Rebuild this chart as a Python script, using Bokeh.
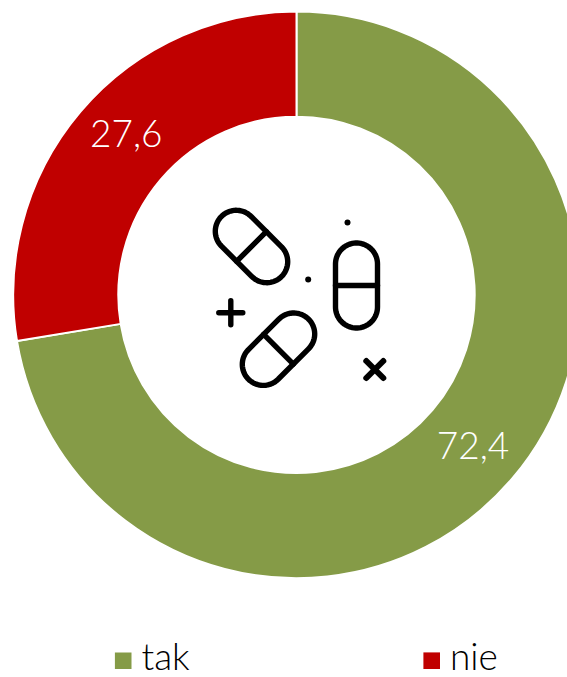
import numpy as np
from bokeh.plotting import figure
from bokeh.models import ColumnDataSource, Range1d
from bokeh.core.properties import value
from bokeh.embed import file_html
from bokeh.resources import INLINE

categories = ["tak", "nie"]
values = [72.4, 27.6]
labels = ["72,4", "27,6"]
colors = ["#859B47", "#C00000"]

W, H = 567, 677
FONT = "Lato Light"

def X(px):
    return px

def Y(py):
    return H - py

p = figure(width=W, height=H, output_backend="svg", toolbar_location=None,
           x_range=Range1d(0, W), y_range=Range1d(0, H), min_border=0)
p.axis.visible = False
p.grid.visible = False
p.outline_line_color = None
p.background_fill_color = "white"

# donut
shares = np.array(values) / sum(values) * 2 * np.pi
ends = np.pi / 2 - np.cumsum(shares)
starts = ends + shares
src = ColumnDataSource(dict(start=starts, end=ends, color=colors))
p.annular_wedge(x=X(296), y=Y(294.4), inner_radius=178.2, outer_radius=283.3,
                start_angle="end", end_angle="start", color="color",
                line_color="white", line_width=2, source=src)

# data labels
p.text(x=[X(472.5), X(125.8)], y=[Y(445), Y(133)], text=labels,
       text_color="white", text_font=value(FONT), text_font_size="37px",
       text_align="center", text_baseline="middle")

# centre icon
STROKE = 5.4

def pill(cx, cy, angle, r=21, half=21.5):
    t = np.radians(angle)
    a = np.linspace(0, np.pi, 40)
    xs = np.r_[r * np.cos(a), r * np.cos(a + np.pi), r]
    ys = np.r_[half + r * np.sin(a), -half + r * np.sin(a + np.pi), half]
    px = cx + xs * np.cos(t) - ys * np.sin(t)
    py = cy + xs * np.sin(t) + ys * np.cos(t)
    bx = cx + np.array([-r, r]) * np.cos(t)
    by = cy + np.array([-r, r]) * np.sin(t)
    return [list(px), list(bx)], [list(py), list(by)]

for c_x, c_y, ang in [(251, 246, 45), (356, 285, 0), (278, 348.7, -45)]:
    xs, ys = pill(X(c_x), Y(c_y), ang)
    p.multi_line(xs, ys, line_color="black", line_width=STROKE, line_cap="round", line_join="round")

p.segment(x0=[X(230.3 - 12), X(230.3)], y0=[Y(312.3), Y(312.3 - 12)],
          x1=[X(230.3 + 12), X(230.3)], y1=[Y(312.3), Y(312.3 + 12)],
          line_color="black", line_width=STROKE, line_cap="round")
p.segment(x0=[X(374.3 - 8.5), X(374.3 - 8.5)], y0=[Y(369 - 8.5), Y(369 + 8.5)],
          x1=[X(374.3 + 8.5), X(374.3 + 8.5)], y1=[Y(369 + 8.5), Y(369 - 8.5)],
          line_color="black", line_width=STROKE + 0.6, line_cap="round")
p.scatter(x=[X(307.7), X(347)], y=[Y(279), Y(222)], size=6, color="black", line_color=None)

# legend
p.rect(x=[X(122.7), X(431.2)], y=[Y(660.2), Y(660.2)], width=16.6, height=16.6,
       color=colors, line_color=None)
p.text(x=[X(141), X(449.5)], y=[Y(654.5), Y(654.5)], text=categories,
       text_color="black", text_font=value(FONT), text_font_size="37px",
       text_align="left", text_baseline="middle")

open("out.html", "w").write(file_html(p, INLINE))
